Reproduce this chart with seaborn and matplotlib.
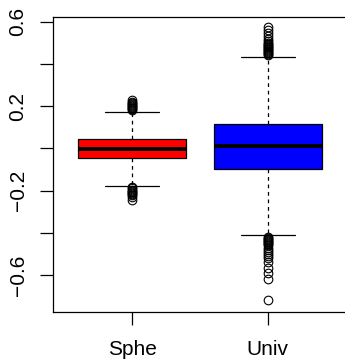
import numpy as np
import pandas as pd
import matplotlib
matplotlib.use("Agg")
import matplotlib.pyplot as plt
import seaborn as sns

# ---- data ----
groups = ["Sphe", "Univ"]
colors = ["#FF0000", "#0000FF"]

sphe_q1, sphe_med, sphe_q3 = -0.047, -0.002, 0.043
sphe_whis_lo, sphe_whis_hi = -0.178, 0.172
sphe_out_hi = [0.18, 0.185, 0.19, 0.195, 0.20, 0.205, 0.21, 0.215, 0.22, 0.228]
sphe_out_lo = [-0.185, -0.19, -0.195, -0.20, -0.205, -0.21, -0.215, -0.22, -0.23, -0.245]

univ_q1, univ_med, univ_q3 = -0.098, 0.013, 0.116
univ_whis_lo, univ_whis_hi = -0.41, 0.433
univ_out_hi = [0.44, 0.445, 0.45, 0.455, 0.46, 0.465, 0.47, 0.475, 0.48, 0.485,
               0.49, 0.495, 0.50, 0.51, 0.52, 0.53, 0.545, 0.56, 0.575]
univ_out_lo = [-0.42, -0.425, -0.43, -0.435, -0.44, -0.445, -0.45, -0.455, -0.46,
               -0.47, -0.48, -0.49, -0.50, -0.51, -0.52, -0.54, -0.565, -0.59,
               -0.62, -0.72]

yticks = [-0.6, -0.4, -0.2, 0.0, 0.2, 0.4, 0.6]
ytick_labels = ["\u22120.6", "", "\u22120.2", "", "0.2", "", "0.6"]

# ---- build the long table seaborn needs (quartile anchors as blocks) ----
block = 50
def sample(q1, med, q3, wlo, whi, out_lo, out_hi):
    return (list(out_lo) + [wlo] + [q1] * block + [med] * block + [q3] * block
            + [whi] + list(out_hi))

vals_sphe = sample(sphe_q1, sphe_med, sphe_q3, sphe_whis_lo, sphe_whis_hi,
                   sphe_out_lo, sphe_out_hi)
vals_univ = sample(univ_q1, univ_med, univ_q3, univ_whis_lo, univ_whis_hi,
                   univ_out_lo, univ_out_hi)
df = pd.DataFrame({
    "group": [groups[0]] * len(vals_sphe) + [groups[1]] * len(vals_univ),
    "value": vals_sphe + vals_univ,
})

sns.set_style("ticks")
plt.rcParams["font.family"] = ["Liberation Sans", "DejaVu Sans"]

fig = plt.figure(figsize=(3.45, 3.63), dpi=100)
ax = fig.add_axes([53 / 345, 1 - 312 / 363, 294 / 345, 295 / 363])

sns.boxplot(
    data=df, x="group", y="value", hue="group", palette=colors, legend=False,
    saturation=1, width=0.8, linecolor="black", linewidth=0.9, whis=1.5,
    fliersize=6.2, ax=ax,
    capwidths=0.4,
    medianprops={"linewidth": 2.8, "color": "black", "solid_capstyle": "butt"},
    whiskerprops={"linestyle": (0, (3, 3)), "linewidth": 0.9},
    capprops={"linewidth": 0.9},
    flierprops={"marker": "o", "markerfacecolor": "none",
                "markeredgecolor": "black", "markeredgewidth": 0.8},
    boxprops={"edgecolor": "black"},
)

ax.set_xlim(-0.585, 1.585)
ax.set_ylim(-0.775, 0.622)
ax.set_yticks(yticks)
ax.set_yticklabels(ytick_labels, rotation=90, va="center")
ax.set_xlabel("")
ax.set_ylabel("")
for s in ax.spines.values():
    s.set_visible(True)
    s.set_color("black")
    s.set_linewidth(0.9)
ax.tick_params(axis="both", direction="out", length=9.3, width=0.9,
               colors="black", labelsize=15)
ax.tick_params(axis="y", pad=9)
ax.tick_params(axis="x", pad=11)

fig.savefig("out.png", dpi=100)
